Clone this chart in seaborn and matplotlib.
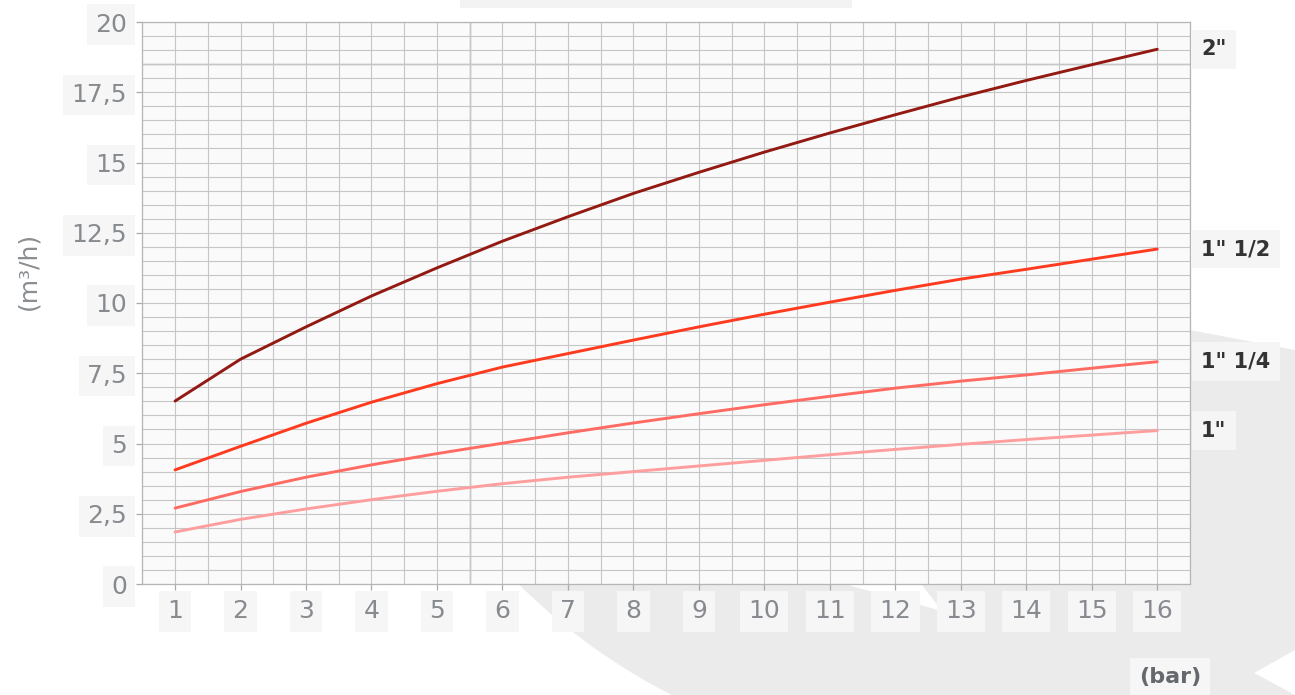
import numpy as np
import pandas as pd
import matplotlib
matplotlib.use("Agg")
import matplotlib.pyplot as plt
import seaborn as sns
from matplotlib.patches import Polygon, Rectangle

# ---------------- data ----------------
pressure_bar = list(range(1, 17))
flow_2in = [6.51, 8.00, 9.15, 10.25, 11.25, 12.20, 13.07, 13.90,
            14.65, 15.37, 16.05, 16.70, 17.33, 17.92, 18.48, 19.03]
flow_1_1_2in = [4.06, 4.90, 5.72, 6.47, 7.13, 7.72, 8.20, 8.68,
                9.15, 9.60, 10.03, 10.45, 10.85, 11.20, 11.56, 11.92]
flow_1_1_4in = [2.70, 3.29, 3.80, 4.24, 4.64, 5.01, 5.38, 5.73,
                6.06, 6.38, 6.68, 6.97, 7.22, 7.44, 7.68, 7.91]
flow_1in = [1.85, 2.30, 2.67, 3.00, 3.30, 3.57, 3.80, 4.00,
            4.20, 4.40, 4.60, 4.79, 4.97, 5.14, 5.30, 5.46]

series_labels = ['2"', '1" 1/2', '1" 1/4', '1"']
series_values = [flow_2in, flow_1_1_2in, flow_1_1_4in, flow_1in]
series_colors = ['#931a12', '#ff3b1f', '#ff6b62', '#ff9e9e']

y_ticks = [0, 2.5, 5, 7.5, 10, 12.5, 15, 17.5, 20]
y_tick_labels = ["0", "2,5", "5", "7,5", "10", "12,5", "15", "17,5", "20"]
x_tick_labels = [str(v) for v in pressure_bar]

df = pd.DataFrame({
    "bar": pressure_bar * len(series_labels),
    "flow": [v for s in series_values for v in s],
    "size": [lab for lab, s in zip(series_labels, series_values) for _ in s],
})

# ---------------- style ----------------
sns.set_theme(style="white")
plt.rcParams["font.family"] = ["DejaVu Sans"]

W, H = 1295, 695
fig = plt.figure(figsize=(W / 100, H / 100), dpi=100)
fig.patch.set_facecolor("white")


def fp(x, y):
    return (x / W, 1 - y / H)


# background watermark shape (decoration)
theta = np.radians(np.linspace(116.6, 165, 40))
arc = [fp(950 + 612 * np.cos(t), 150 + 612 * np.sin(t)) for t in theta]
pts = [fp(1190, 330), fp(1295, 350), fp(1295, 650), fp(1254, 673),
       fp(1295, 695), fp(676, 695)] + arc
fig.add_artist(Polygon(pts, closed=True, transform=fig.transFigure,
                       facecolor="#ebebeb", edgecolor="none", zorder=-2))
fig.add_artist(Polygon([fp(848, 585), fp(922, 585), fp(942, 611)], closed=True,
                       transform=fig.transFigure, facecolor="white",
                       edgecolor="none", zorder=-1))
# clipped title remnant box
fig.add_artist(Rectangle(fp(460, 8), 392 / W, 8 / H, transform=fig.transFigure,
                         facecolor="#f3f3f3", edgecolor="none", zorder=-1))

ax = fig.add_axes([142.3 / W, 111 / H, 1047.7 / W, 562 / H])
ax.set_facecolor("#fafafa")

sns.lineplot(data=df, x="bar", y="flow", hue="size",
             palette=dict(zip(series_labels, series_colors)),
             hue_order=series_labels, linewidth=2.1, ax=ax, legend=False)

ax.set_xlim(0.5, 16.5)
ax.set_ylim(0, 20)
ax.set_xticks(pressure_bar)
ax.set_xticklabels(x_tick_labels)
ax.set_yticks(y_ticks)
ax.set_yticklabels(y_tick_labels)
ax.set_xticks(np.arange(0.5, 16.51, 0.5), minor=True)
ax.set_yticks(np.arange(0, 20.01, 0.5), minor=True)
ax.set_xlabel("")
ax.set_ylabel("")

ax.set_axisbelow(True)
ax.grid(True, which="both", color="#c6c6c6", linewidth=0.8)
ax.axvline(5.5, color="#a8a8a8", linewidth=1.0, zorder=0.5)
ax.axhline(18.5, color="#a8a8a8", linewidth=1.0, zorder=0.5)

ax.tick_params(axis="both", which="major", length=4, width=0.9,
               color="#aaaaaa", labelcolor="#878b90", labelsize=18, pad=7,
               bottom=True, left=True)
ax.tick_params(axis="both", which="minor", length=0)
for s in ax.spines.values():
    s.set_color("#b5b5b5")
    s.set_linewidth(0.9)

box = dict(boxstyle="square,pad=0.33", fc="#f6f6f6", ec="none")
for lbl in ax.get_xticklabels() + ax.get_yticklabels():
    lbl.set_bbox(box)

# series labels at line ends
for lab, vals in zip(series_labels, series_values):
    ax.annotate(lab, xy=(16.5, vals[-1]), xycoords="data",
                xytext=(8, 0), textcoords="offset points",
                ha="left", va="center", fontsize=15, fontweight="bold",
                color="#333333", annotation_clip=False,
                bbox=dict(boxstyle="square,pad=0.45", fc="#f5f5f5", ec="none"))

fig.text(28 / W, 1 - 271 / H, "(m³/h)", rotation=90, color="#8a8e92",
         fontsize=18, ha="center", va="center")
fig.text(1170 / W, 1 - 677 / H, "(bar)", color="#65696d", fontsize=16,
         fontweight="bold", ha="center", va="center",
         bbox=dict(boxstyle="square,pad=0.4", fc="#f6f6f6", ec="none"))

fig.savefig("out.png", dpi=100)
